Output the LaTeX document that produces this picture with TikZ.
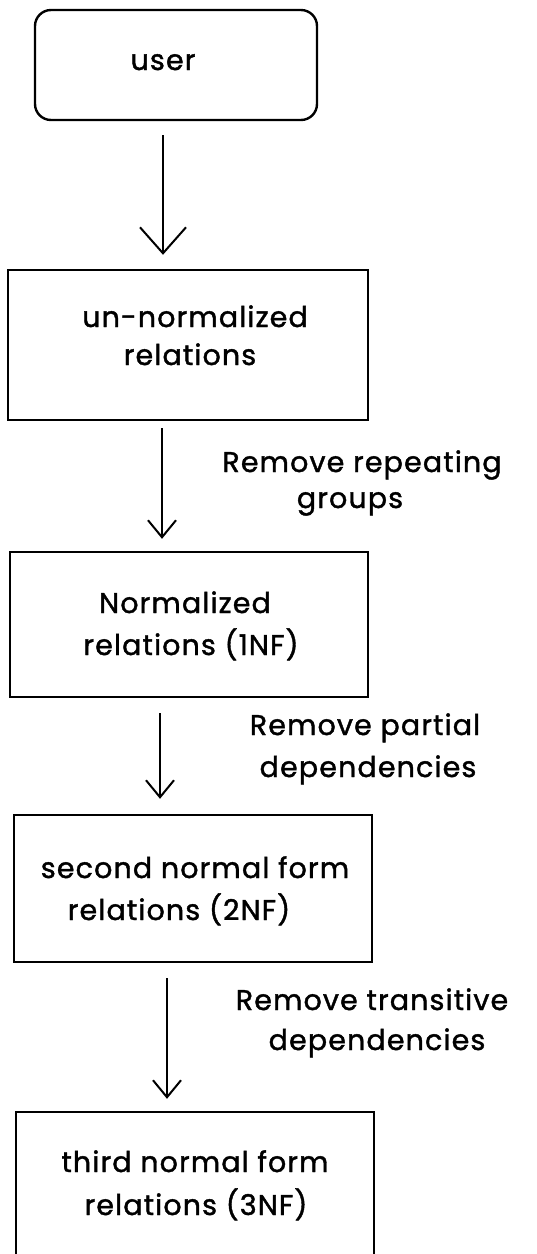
\documentclass[tikz,border=0pt]{standalone}
\usepackage{fontspec}
\setmainfont[FakeBold=1.4, LetterSpace=4]{Poppins}
\usetikzlibrary{arrows.meta}
\begin{document}
\begin{tikzpicture}[x=1pt, y=-1pt,
    box/.style={draw, line width=2.4pt, inner sep=0pt},
    txt/.style={anchor=base, inner sep=0pt, font=\fontsize{28.5}{34}\selectfont},
    conn/.style={line width=2pt},
    bigtip/.style={-{Straight Barb[length=26pt, width=46pt, line width=2pt]}},
    smalltip/.style={-{Straight Barb[length=17pt, width=28pt, line width=2pt]}}]
  \clip (0,0) rectangle (537,1254);

  % boxes
  \node[box, rounded corners=16pt, minimum width=282pt, minimum height=110pt] (user) at (176,65) {};
  \node[box, minimum width=360pt, minimum height=150pt] (unnorm) at (188,345) {};
  \node[box, minimum width=358pt, minimum height=145pt] (norm) at (189,624.5) {};
  \node[box, minimum width=358pt, minimum height=147pt] (second) at (193,888.5) {};
  \node[box, minimum width=358pt, minimum height=158pt] (third) at (195,1191) {};

  % box texts
  \node[txt] (tuser) at (163,70) {user};
  \node[txt] (tunnormA) at (195,327) {un-normalized};
  \node[txt] (tunnormB) at (190,365) {relations};
  \node[txt] (tnormA) at (185,613) {Normalized};
  \node[txt] (tnormB) at (191,655) {relations (1NF)};
  \node[txt] (tsecondA) at (195,878) {second normal form};
  \node[txt] (tsecondB) at (179,920) {relations (2NF)};
  \node[txt] (tthirdA) at (195,1172) {third normal form};
  \node[txt] (tthirdB) at (196,1215) {relations (3NF)};

  % step labels
  \node[txt] (lrepA) at (362,472) {Remove repeating};
  \node[txt] (lrepB) at (350,508) {groups};
  \node[txt] (lparA) at (365,735) {Remove partial};
  \node[txt] (lparB) at (368,777) {dependencies};
  \node[txt] (ltraA) at (372,1010) {Remove transitive};
  \node[txt] (ltraB) at (377,1050) {dependencies};

  % connectors
  \draw[conn, bigtip, shorten <=14pt, shorten >=14pt]
    ([xshift=-13pt]user.south) -- ([xshift=-25pt]unnorm.north);
  \draw[conn, smalltip, shorten <=7pt, shorten >=12pt]
    ([xshift=-26pt]unnorm.south) -- ([xshift=-27pt]norm.north);
  \draw[conn, smalltip, shorten <=15pt, shorten >=15pt]
    ([xshift=-29pt]norm.south) -- ([xshift=-33pt]second.north);
  \draw[conn, smalltip, shorten <=15pt, shorten >=12pt]
    ([xshift=-26pt]second.south) -- ([xshift=-28pt]third.north);
\end{tikzpicture}
\end{document}
